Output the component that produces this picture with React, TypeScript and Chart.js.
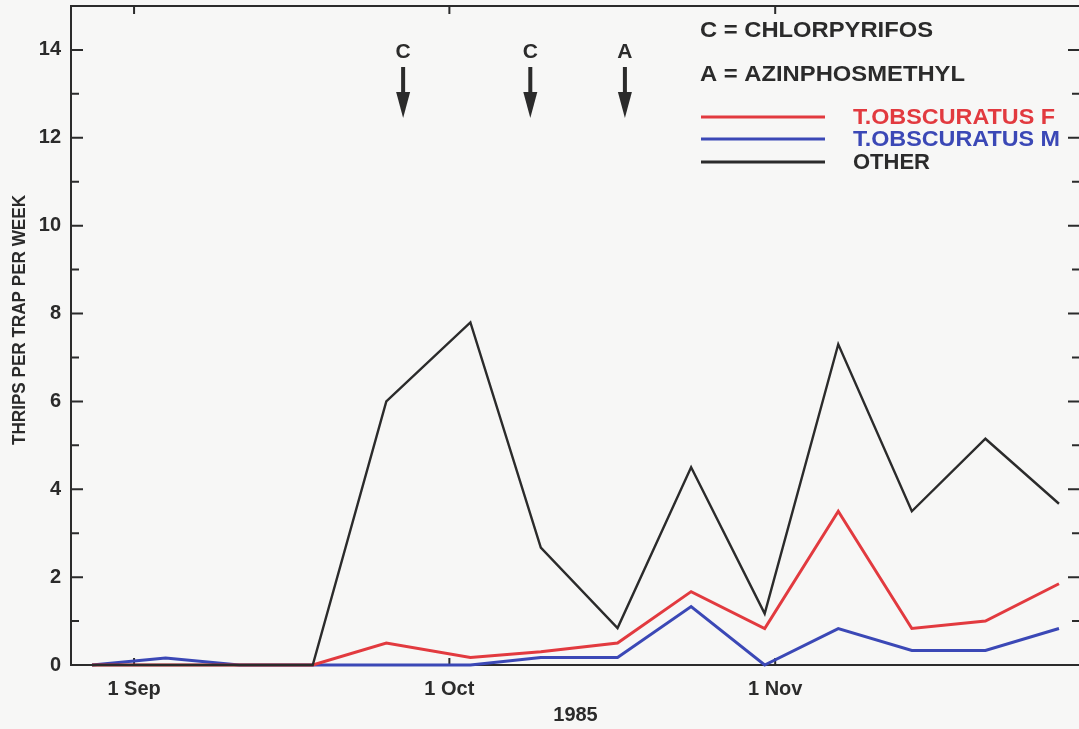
import React, { useEffect, useRef } from "react";
import { Chart, registerables } from "chart.js";

Chart.register(...registerables);

// Sample dates, in days after 1 Sep 1985
const sampleDays = [-4, 3, 10, 17, 24, 32, 38.7, 46, 53, 60, 67, 74, 81, 88];
const femaleCounts = [0, 0, 0, 0, 0.5, 0.17, 0.3, 0.5, 1.67, 0.83, 3.5, 0.83, 1.0, 1.85];
const maleCounts = [0, 0.16, 0, 0, 0, 0, 0.17, 0.17, 1.33, 0, 0.83, 0.33, 0.33, 0.83];
const otherCounts = [0, 0, 0, 0, 6.0, 7.8, 2.67, 0.84, 4.5, 1.17, 7.3, 3.5, 5.15, 3.67];

const seriesLabels = ["T.OBSCURATUS F", "T.OBSCURATUS M", "OTHER"];
const xTickDays = [0, 30, 61];
const xTickLabels = ["1 Sep", "1 Oct", "1 Nov"];
const yTickValues = [0, 2, 4, 6, 8, 10, 12, 14];

const sprayDays = [25.6, 37.7, 46.7];
const sprayLetters = ["C", "C", "A"];
const sprayKey = ["C = CHLORPYRIFOS", "A = AZINPHOSMETHYL"];

const INK = "#2b2b2b";
const RED = "#e23a3f";
const BLUE = "#3b48b6";
const BG = "#f7f7f6";
const FONT = "'Liberation Sans', Arial, sans-serif";

function fitText(ctx: any, text: string, x: number, y: number, width: number, rotate = false) {
  const w = ctx.measureText(text).width;
  const k = w > 0 ? width / w : 1;
  ctx.save();
  ctx.translate(x, y);
  if (rotate) ctx.rotate(-Math.PI / 2);
  ctx.scale(k, 1);
  ctx.fillText(text, 0, 0);
  ctx.restore();
}

const decorPlugin = {
  id: "decor",
  beforeDatasetsDraw(chart: any) {
    const { ctx, chartArea, scales } = chart;
    const { left, right, top, bottom } = chartArea;
    const x = scales.x;
    const y = scales.y;
    ctx.save();
    ctx.strokeStyle = INK;
    ctx.lineWidth = 2;
    ctx.strokeRect(left, top, right - left, bottom - top);
    for (let v = 1; v < 15; v++) {
      const py = y.getPixelForValue(v);
      const len = v % 2 === 0 ? 12 : 8;
      ctx.beginPath();
      ctx.moveTo(left, py);
      ctx.lineTo(left + len, py);
      ctx.moveTo(right, py);
      ctx.lineTo(right - len, py);
      ctx.stroke();
    }
    xTickDays.forEach((d) => {
      const px = x.getPixelForValue(d);
      ctx.beginPath();
      ctx.moveTo(px, top);
      ctx.lineTo(px, top + 8);
      ctx.moveTo(px, bottom);
      ctx.lineTo(px, bottom - 7);
      ctx.stroke();
    });
    ctx.restore();
  },
  afterDraw(chart: any) {
    const { ctx, chartArea, scales } = chart;
    const { top } = chartArea;
    const x = scales.x;
    ctx.save();
    ctx.fillStyle = INK;
    ctx.font = `bold 19px ${FONT}`;
    ctx.textAlign = "center";
    ctx.textBaseline = "middle";
    fitText(ctx, "THRIPS PER TRAP PER WEEK", 20, 320, 250, true);

    sprayDays.forEach((d, i) => {
      const px = x.getPixelForValue(d);
      ctx.fillStyle = INK;
      ctx.font = `bold 21px ${FONT}`;
      ctx.textAlign = "center";
      ctx.textBaseline = "middle";
      ctx.fillText(sprayLetters[i], px, top + 46);
      ctx.fillRect(px - 2, top + 61, 4, 30);
      ctx.beginPath();
      ctx.moveTo(px - 7, top + 86);
      ctx.lineTo(px + 7, top + 86);
      ctx.lineTo(px, top + 112);
      ctx.closePath();
      ctx.fill();
    });

    ctx.textAlign = "left";
    ctx.textBaseline = "middle";
    ctx.font = `bold 22px ${FONT}`;
    ctx.fillStyle = INK;
    fitText(ctx, sprayKey[0], 700, 31, 233);
    fitText(ctx, sprayKey[1], 700, 75, 265);

    const ys = [117, 139, 162];
    const widths = [202, 207, 77];
    seriesLabels.forEach((lab, i) => {
      const ds = chart.data.datasets.find((d: any) => d.label === lab);
      ctx.strokeStyle = ds.borderColor;
      ctx.lineWidth = 3;
      ctx.beginPath();
      ctx.moveTo(701, ys[i]);
      ctx.lineTo(825, ys[i]);
      ctx.stroke();
      ctx.fillStyle = ds.borderColor;
      fitText(ctx, ds.label, 853, ys[i] + 1, widths[i]);
    });
    ctx.restore();
  },
};

export default function App() {
  const ref = useRef<HTMLCanvasElement | null>(null);
  useEffect(() => {
    if (!ref.current) return;
    const mk = (vals: number[]) => sampleDays.map((d, i) => ({ x: d, y: vals[i] }));
    const chart = new Chart(ref.current, {
      type: "line",
      data: {
        datasets: [
          { label: seriesLabels[2], data: mk(otherCounts), borderColor: INK, borderWidth: 2.4 },
          { label: seriesLabels[0], data: mk(femaleCounts), borderColor: RED, borderWidth: 3 },
          { label: seriesLabels[1], data: mk(maleCounts), borderColor: BLUE, borderWidth: 3 },
        ].map((d: any) => ({ ...d, pointRadius: 0, tension: 0, fill: false, clip: 6 })),
      },
      options: {
        animation: false,
        responsive: false,
        layout: { padding: { top: 6, right: 10, left: 0, bottom: 0 } },
        plugins: { legend: { display: false }, tooltip: { enabled: false }, title: { display: false } },
        scales: {
          x: {
            type: "linear",
            min: -6,
            max: 90,
            grid: { display: false, drawTicks: false },
            border: { display: false },
            afterBuildTicks: (s: any) => {
              s.ticks = xTickDays.map((v) => ({ value: v }));
            },
            afterFit: (s: any) => {
              s.height = 64;
              s.paddingLeft = 0;
              s.paddingRight = 0;
            },
            ticks: {
              padding: 12,
              color: INK,
              font: { family: FONT, size: 20, weight: "bold" },
              maxRotation: 0,
              autoSkip: false,
              callback: (v: any) => {
                const i = xTickDays.indexOf(Number(v));
                return i >= 0 ? xTickLabels[i] : "";
              },
            },
            title: {
              display: true,
              text: "1985",
              color: INK,
              font: { family: FONT, size: 20, weight: "bold" },
              padding: { top: 0, bottom: 2 },
            },
          },
          y: {
            min: 0,
            max: 15,
            grid: { display: false, drawTicks: false },
            border: { display: false },
            afterBuildTicks: (s: any) => {
              s.ticks = yTickValues.map((v) => ({ value: v }));
            },
            afterFit: (s: any) => {
              s.width = 71;
              s.paddingTop = 0;
              s.paddingBottom = 0;
            },
            ticks: {
              padding: 10,
              color: INK,
              font: { family: FONT, size: 20, weight: "bold" },
              autoSkip: false,
            },
          },
        },
      },
      plugins: [decorPlugin],
    } as any);
    return () => chart.destroy();
  }, []);
  return (
    <div
      style={{
        position: "fixed",
        left: 0,
        top: 0,
        width: 1079,
        height: 729,
        overflow: "hidden",
        background: BG,
      }}
    >
      <canvas ref={ref} width={1090} height={729} style={{ width: 1090, height: 729, display: "block" }} />
    </div>
  );
}
